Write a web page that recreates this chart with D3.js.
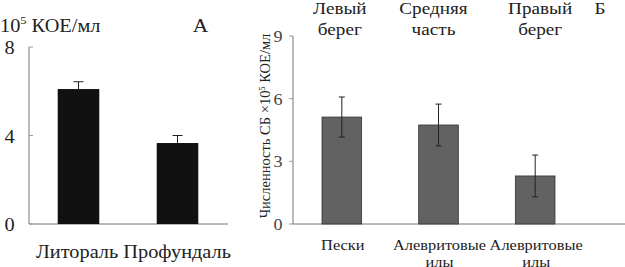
<!DOCTYPE html>
<html>
<head>
<meta charset="utf-8">
<script src="https://cdn.jsdelivr.net/npm/d3@7"></script>
<style>
  body { margin: 0; background: #fff; }
  svg { display: block; font-family: 'Liberation Serif', 'Times New Roman', serif; }
</style>
</head>
<body>
<div id="chart"></div>
<script>
// panel A
const zonesA = ['Литораль', 'Профундаль']
const valuesA = [6.1, 3.66]
const errA = [0.33, 0.34]
const ticksA = [0, 4, 8]

// panel Б
const zonesB = ['Левый берег', 'Средняя часть', 'Правый берег']
const soilsB = ['Пески', 'Алевритовые илы', 'Алевритовые илы']
const valuesB = [5.12, 4.74, 2.3]
const errB = [0.96, 1.0, 1.0]
const ticksB = [0, 3, 6, 9]

// the scan is a bit wider than a normal Times face
const SX = 1.13

const svg = d3.select('#chart').append('svg')
  .attr('width', 625)
  .attr('height', 267)

const label = (g, x, y, txt, size, anchor = 'middle', fill = '#222') =>
  g.append('text')
    .attr('transform', `translate(${x},${y}) scale(${SX},1)`)
    .attr('text-anchor', anchor).attr('font-size', size).attr('fill', fill)
    .text(txt)

// ---- A ----
const xA = d3.scaleBand().domain(zonesA).range([29, 227]).paddingInner(0.58).paddingOuter(0.29)
const yA = d3.scaleLinear().domain([0, 8]).range([224, 47])

const gA = svg.append('g')
gA.append('line').attr('x1', 29).attr('x2', 29).attr('y1', yA(8)).attr('y2', yA(0)).attr('stroke', '#777')
gA.append('line').attr('x1', 29).attr('x2', 228).attr('y1', yA(0)).attr('y2', yA(0)).attr('stroke', '#777')
gA.selectAll('.tk').data(ticksA).enter().append('line')
  .attr('x1', 29).attr('x2', 33).attr('y1', d => yA(d)).attr('y2', d => yA(d)).attr('stroke', '#999')
ticksA.forEach(t => label(gA, 9.5, yA(t) + 7, t, 18))

gA.selectAll('.err').data(zonesA).enter().append('g').each(function (d, i) {
  const cx = xA(d) + xA.bandwidth() / 2
  const g = d3.select(this)
  g.append('line').attr('x1', cx).attr('x2', cx).attr('y1', yA(valuesA[i])).attr('y2', yA(valuesA[i] + errA[i])).attr('stroke', '#222')
  g.append('line').attr('x1', cx - 5).attr('x2', cx + 5).attr('y1', yA(valuesA[i] + errA[i])).attr('y2', yA(valuesA[i] + errA[i])).attr('stroke', '#222')
})
gA.selectAll('rect').data(zonesA).enter().append('rect')
  .attr('x', d => xA(d)).attr('width', xA.bandwidth())
  .attr('y', (d, i) => yA(valuesA[i])).attr('height', (d, i) => yA(0) - yA(valuesA[i]))
  .attr('fill', '#111')

const titleA = gA.append('text').attr('transform', `translate(0,32) scale(${SX},1)`)
  .attr('font-size', 18).attr('fill', '#222')
titleA.append('tspan').text('10')
titleA.append('tspan').attr('dy', -8).attr('font-size', 11).text('5')
titleA.append('tspan').attr('dy', 8).text(' КОЕ/мл')
label(gA, 200.5, 32, 'А', 19)

label(gA, 133.5, 258, zonesA.join(' '), 18)

// ---- Б ----
const xB = d3.scaleBand().domain(d3.range(zonesB.length)).range([293, 584]).paddingInner(0.59).paddingOuter(0.3)
const yB = d3.scaleLinear().domain([0, 9]).range([224, 36])

const gB = svg.append('g')
gB.append('line').attr('x1', 293).attr('x2', 293).attr('y1', yB(9)).attr('y2', yB(0)).attr('stroke', '#777')
gB.append('line').attr('x1', 293).attr('x2', 625).attr('y1', yB(0)).attr('y2', yB(0)).attr('stroke', '#777')
gB.selectAll('.tk').data(ticksB).enter().append('line')
  .attr('x1', 289).attr('x2', 293).attr('y1', d => yB(d)).attr('y2', d => yB(d)).attr('stroke', '#999')
ticksB.forEach(t => label(gB, 278, yB(t) + 6, t, 16, 'middle', '#444'))

gB.selectAll('rect').data(valuesB).enter().append('rect')
  .attr('x', (d, i) => xB(i)).attr('width', xB.bandwidth())
  .attr('y', d => yB(d)).attr('height', d => yB(0) - yB(d))
  .attr('fill', '#626262').attr('stroke', '#333').attr('stroke-width', 0.8)

gB.selectAll('.err').data(valuesB).enter().append('g').each(function (d, i) {
  const cx = xB(i) + xB.bandwidth() / 2
  const g = d3.select(this)
  g.append('line').attr('x1', cx).attr('x2', cx).attr('y1', yB(d - errB[i])).attr('y2', yB(d + errB[i])).attr('stroke', '#222')
  ;[d - errB[i], d + errB[i]].forEach(v => {
    g.append('line').attr('x1', cx - 3).attr('x2', cx + 3).attr('y1', yB(v)).attr('y2', yB(v)).attr('stroke', '#222')
  })
})

// zone labels on top
const zoneShift = [-2, -5, 5]
zonesB.forEach((z, i) => {
  const cx = xB(i) + xB.bandwidth() / 2 + zoneShift[i]
  z.split(' ').forEach((w, j) => label(gB, cx, 14 + j * 21, w, 17))
})
label(gB, 600, 14, 'Б', 17)

// soil labels at the bottom
soilsB.forEach((s, i) => {
  const cx = xB(i) + xB.bandwidth() / 2
  s.split(' ').forEach((w, j) => label(gB, cx + 1, 250 + j * 17, w, 14.5))
})

// y label
const yl = gB.append('text').attr('transform', 'translate(270,126) rotate(-90)')
  .attr('text-anchor', 'middle').attr('font-size', 14.5).attr('fill', '#222')
yl.append('tspan').text('Численность СБ ×10')
yl.append('tspan').attr('dy', -5).attr('font-size', 8.5).text('5')
yl.append('tspan').attr('dy', 5).text(' КОЕ/мл')
</script>
</body>
</html>
